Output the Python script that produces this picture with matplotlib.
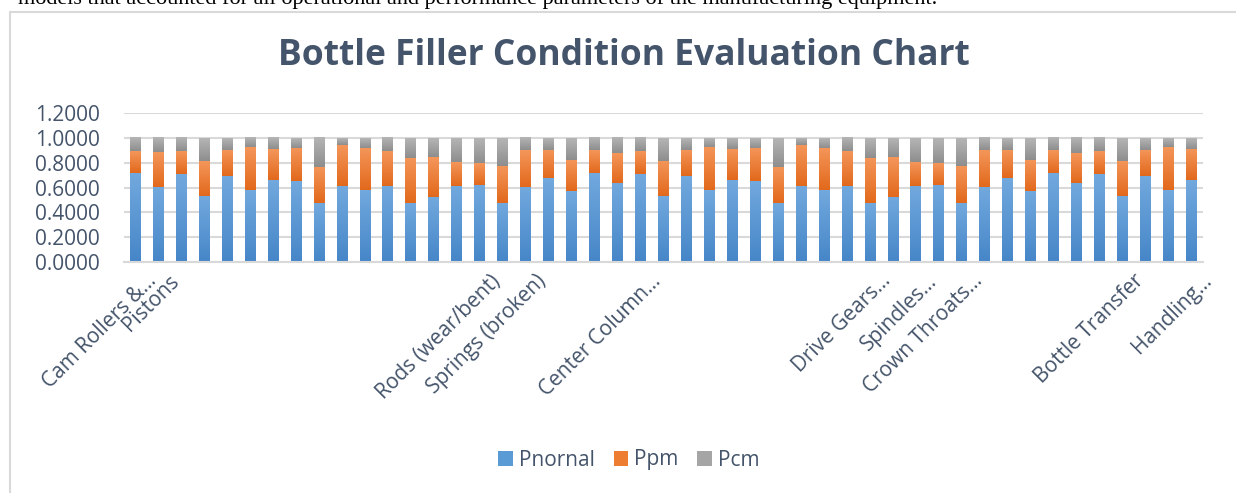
import numpy as np
import matplotlib
matplotlib.use("Agg")
import matplotlib.pyplot as plt
from matplotlib.colors import LinearSegmentedColormap
from matplotlib.patches import Patch, Rectangle
from matplotlib.transforms import ScaledTranslation

# Datos (47 componentes de la llenadora)
etiquetas = [""] * 47
etiquetas[0] = "Cam Rollers &…"
etiquetas[1] = "Pistons"
etiquetas[15] = "Rods (wear/bent)"
etiquetas[17] = "Springs (broken)"
etiquetas[22] = "Center Column…"
etiquetas[32] = "Drive Gears…"
etiquetas[34] = "Spindles…"
etiquetas[36] = "Crown Throats…"
etiquetas[43] = "Bottle Transfer"
etiquetas[46] = "Handling…"

p_normal = [0.720, 0.608, 0.712, 0.535, 0.696, 0.583, 0.664, 0.656, 0.476, 0.616,
            0.583, 0.616, 0.476, 0.527, 0.616, 0.624, 0.476, 0.608, 0.680, 0.575,
            0.720, 0.640, 0.712, 0.535, 0.696, 0.583, 0.664, 0.656, 0.476, 0.616,
            0.583, 0.616, 0.476, 0.527, 0.616, 0.624, 0.476, 0.608, 0.680, 0.575,
            0.720, 0.640, 0.712, 0.535, 0.696, 0.583, 0.664]
p_pm = [0.175, 0.274, 0.178, 0.280, 0.210, 0.344, 0.247, 0.266, 0.290, 0.330,
        0.339, 0.274, 0.365, 0.322, 0.193, 0.177, 0.301, 0.290, 0.226, 0.250,
        0.178, 0.234, 0.178, 0.282, 0.210, 0.347, 0.250, 0.266, 0.293, 0.330,
        0.339, 0.274, 0.365, 0.322, 0.193, 0.177, 0.301, 0.290, 0.226, 0.250,
        0.178, 0.234, 0.178, 0.282, 0.210, 0.347, 0.250]
p_cm = [0.105, 0.118, 0.110, 0.185, 0.094, 0.073, 0.089, 0.078, 0.234, 0.054,
        0.078, 0.110, 0.159, 0.151, 0.191, 0.199, 0.223, 0.102, 0.094, 0.175,
        0.102, 0.126, 0.110, 0.183, 0.094, 0.070, 0.086, 0.078, 0.231, 0.054,
        0.078, 0.110, 0.159, 0.151, 0.191, 0.199, 0.223, 0.102, 0.094, 0.175,
        0.102, 0.126, 0.110, 0.183, 0.094, 0.070, 0.086]

plt.rcParams['font.family'] = ['Open Sans', 'DejaVu Sans']
texto = '#44546A'
gris_linea = '#D9D9D9'

fig = plt.figure(figsize=(12.36, 4.93), dpi=100)

# Texto del documento cortado arriba y marco del gráfico
fig.text(18 / 1236, 1 - 4 / 493,
         "models that accounted for all operational and performance parameters of the manufacturing equipment.",
         family='Liberation Serif', fontsize=16, color='black', va='baseline', ha='left')
fig.patches.append(Rectangle((10 / 1236, -0.1), 1.2, 1 - 12 / 493 + 0.1, transform=fig.transFigure,
                             facecolor='none', edgecolor=gris_linea, linewidth=1.5))

ax = fig.add_axes([123.5 / 1236, 1 - 262 / 493, 1079 / 1236, 149 / 493])

x = np.arange(len(p_normal))
ancho = 0.44
b1 = ax.bar(x, p_normal, ancho, color='none', zorder=2)
b2 = ax.bar(x, p_pm, ancho, bottom=p_normal, color='none', zorder=2)
b3 = ax.bar(x, p_cm, ancho, bottom=np.array(p_normal) + np.array(p_pm), color='none', zorder=2)


def degradado(barras, c_arriba, c_abajo):
    cmap = LinearSegmentedColormap.from_list('', [c_abajo, c_arriba])
    grad = np.linspace(0, 1, 64).reshape(-1, 1)
    for b in barras:
        x0, y0, w, h = b.get_x(), b.get_y(), b.get_width(), b.get_height()
        ax.imshow(grad, extent=(x0, x0 + w, y0, y0 + h), origin='lower', cmap=cmap,
                  aspect='auto', zorder=2, interpolation='bilinear')


degradado(b1, '#72A9DE', '#4686C8')
degradado(b2, '#F4965A', '#E2691C')
degradado(b3, '#B5B5B5', '#8E8E8E')

ax.set_xlim(-0.5, len(p_normal) - 0.5)
ax.set_ylim(0, 1.2)
ax.set_yticks(np.arange(0, 1.21, 0.2))
ax.set_yticklabels([f"{v:.4f}" for v in np.arange(0, 1.21, 0.2)])
ax.grid(axis='y', color=gris_linea, linewidth=1.5, zorder=0)
ax.set_axisbelow(True)
for s in ['top', 'right', 'left']:
    ax.spines[s].set_visible(False)
ax.spines['bottom'].set_color(gris_linea)
ax.spines['bottom'].set_linewidth(1.5)
ax.tick_params(axis='y', length=0, pad=17, labelsize=15, labelcolor=texto)
ax.tick_params(axis='x', length=0, pad=0, labelsize=15, labelcolor=texto)

ax.set_xticks(x)
ax.set_xticklabels(etiquetas, rotation=45, ha='right', va='center', rotation_mode='anchor')
desplaza = ScaledTranslation(0.18, -0.16, fig.dpi_scale_trans)
for lab in ax.get_xticklabels():
    lab.set_transform(lab.get_transform() + desplaza)

fig.text(624 / 1236, 1 - 56 / 493, "Bottle Filler Condition Evaluation Chart",
         fontsize=25.5, fontweight='bold', color=texto, ha='center', va='center')

manejadores = [Patch(facecolor='#5B9BD5'), Patch(facecolor='#ED7D31'), Patch(facecolor='#A5A5A5')]
fig.legend(manejadores, ['Pnornal', 'Ppm', 'Pcm'], loc='center', ncol=3,
           bbox_to_anchor=(629 / 1236, 1 - 460 / 493), frameon=False, fontsize=15,
           labelcolor=texto, handlelength=0.7, handleheight=0.7, handletextpad=0.3,
           columnspacing=0.9, borderpad=0)

fig.savefig('out.png', dpi=100)
